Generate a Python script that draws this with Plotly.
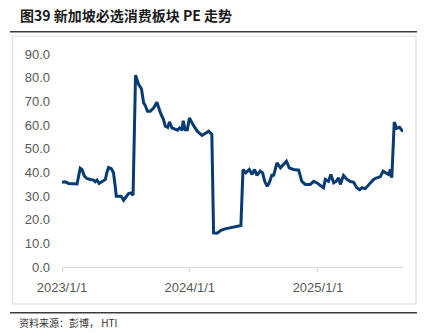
import plotly.graph_objects as go

# ---- data ----
dates = [
    "2023-01-01", "2023-01-10", "2023-01-20", "2023-02-03", "2023-02-13", "2023-02-22", "2023-02-27",
    "2023-03-06", "2023-03-13", "2023-03-23", "2023-04-01", "2023-04-06", "2023-04-11", "2023-04-17",
    "2023-04-25", "2023-05-05", "2023-05-09", "2023-05-14", "2023-05-22", "2023-05-28", "2023-06-02",
    "2023-06-05", "2023-06-12", "2023-06-19", "2023-06-26", "2023-07-03", "2023-07-10", "2023-07-18",
    "2023-07-23", "2023-07-30", "2023-08-08", "2023-08-16", "2023-08-22", "2023-08-27", "2023-09-02",
    "2023-09-10", "2023-09-20", "2023-09-29", "2023-10-10", "2023-10-18", "2023-10-23", "2023-10-30",
    "2023-11-04", "2023-11-11", "2023-11-21", "2023-11-27", "2023-12-03", "2023-12-10", "2023-12-13",
    "2023-12-19", "2023-12-25", "2023-12-31", "2024-01-10", "2024-01-22", "2024-02-05", "2024-02-14",
    "2024-02-24", "2024-03-04", "2024-03-09", "2024-03-19", "2024-03-30", "2024-04-11", "2024-04-26",
    "2024-05-10", "2024-05-26", "2024-06-01", "2024-06-09", "2024-06-19", "2024-06-27", "2024-07-04",
    "2024-07-11", "2024-07-20", "2024-07-27", "2024-08-02", "2024-08-09", "2024-08-15", "2024-08-23",
    "2024-08-27", "2024-09-06", "2024-09-16", "2024-09-25", "2024-10-03", "2024-10-11", "2024-10-23",
    "2024-11-07", "2024-11-16", "2024-11-26", "2024-12-10", "2024-12-20", "2024-12-31", "2025-01-08",
    "2025-01-17", "2025-01-22", "2025-01-31", "2025-02-07", "2025-02-15", "2025-02-22", "2025-03-01",
    "2025-03-06", "2025-03-15", "2025-03-25", "2025-04-03", "2025-04-13", "2025-04-22", "2025-04-30",
    "2025-05-07", "2025-05-16", "2025-05-28", "2025-06-09", "2025-06-18", "2025-06-28", "2025-07-06",
    "2025-07-15", "2025-07-22", "2025-07-27", "2025-07-31", "2025-08-07", "2025-08-14", "2025-08-22",
    "2025-08-27", "2025-09-01",
]
pe_values = [
    35.8, 36.0, 35.3, 35.3, 35.1, 41.7, 41.2,
    38.4, 37.4, 37.0, 36.7, 36.0, 36.7, 35.3,
    36.0, 37.0, 39.8, 42.0, 41.5, 39.8, 34.1,
    29.9, 29.9, 29.9, 28.2, 29.9, 31.0, 31.3,
    30.3, 81.0, 77.1, 75.3, 69.4, 68.2, 65.8,
    65.8, 67.3, 69.6, 64.8, 62.3, 59.5, 59.0,
    61.3, 58.8, 58.1, 57.8, 58.8, 57.8, 61.8,
    58.0, 58.0, 63.0, 60.2, 57.4, 55.6, 56.3,
    57.4, 56.0, 14.4, 14.3, 15.5, 16.1, 16.6,
    17.0, 17.5, 41.2, 39.8, 41.2, 39.1, 41.2,
    38.7, 40.5, 39.8, 36.2, 34.1, 35.6, 39.1,
    38.4, 44.0, 41.9, 43.3, 44.7, 41.9, 41.2,
    40.9, 36.2, 34.9, 34.9, 36.2, 35.4, 34.4,
    33.5, 37.0, 36.2, 39.1, 35.6, 36.2, 37.7,
    34.9, 38.7, 37.0, 36.2, 35.8, 33.5, 32.7,
    33.5, 33.1, 34.9, 37.0, 37.7, 38.1, 40.5,
    39.5, 39.1, 41.2, 37.7, 61.2, 58.6, 59.0,
    58.0, 57.2,
]
x_tick_vals = ["2023-01-01", "2024-01-01", "2025-01-01"]
x_tick_text = ["2023/1/1", "2024/1/1", "2025/1/1"]
y_tick_vals = [0, 10, 20, 30, 40, 50, 60, 70, 80, 90]
y_tick_text = ["0.0", "10.0", "20.0", "30.0", "40.0", "50.0", "60.0", "70.0", "80.0", "90.0"]

title_text = "图39 新加坡必选消费板块 PE 走势"
source_text = "资料来源：彭博， HTI"

# ---- layout geometry ----
W, H = 429, 333
ML, MR, MT, MB = 62, 26, 54, 66
PW, PH = W - ML - MR, H - MT - MB


def px(xp):
    return (xp - ML) / PW


def py(yp):
    return (H - MB - yp) / PH


fig = go.Figure()
fig.add_trace(go.Scatter(
    x=dates, y=pe_values, mode="lines",
    line=dict(color="#063C73", width=3),
    hoverinfo="skip",
))

fig.update_layout(
    width=W, height=H, autosize=False,
    margin=dict(l=ML, r=MR, t=MT, b=MB, pad=0),
    paper_bgcolor="white", plot_bgcolor="white",
    showlegend=False,
    font=dict(family="Liberation Sans, Arial, sans-serif", color="#595959"),
    xaxis=dict(
        type="date",
        range=["2023-01-01", "2025-09-01"],
        tickmode="array", tickvals=x_tick_vals, ticktext=x_tick_text,
        showgrid=False, zeroline=False,
        showline=True, linecolor="#d9d9d9", linewidth=1,
        ticks="outside", ticklen=4, tickcolor="#d9d9d9", tickwidth=1,
        tickfont=dict(size=13, color="#595959"),
        ticklabelstandoff=4,
    ),
    yaxis=dict(
        range=[0, 90],
        tickmode="array", tickvals=y_tick_vals, ticktext=y_tick_text,
        showgrid=False, zeroline=False, showline=False, ticks="",
        tickfont=dict(size=13, color="#595959"),
        ticklabelstandoff=11,
    ),
)

# frame and rules
fig.add_shape(type="rect", xref="paper", yref="paper",
              x0=px(12.7), x1=px(416), y0=py(304), y1=py(36),
              line=dict(color="#d9d9d9", width=1), fillcolor="rgba(0,0,0,0)", layer="below")
fig.add_shape(type="line", xref="paper", yref="paper",
              x0=px(10), x1=px(417), y0=py(31.7), y1=py(31.7),
              line=dict(color="#3a3a3a", width=1.5))
fig.add_shape(type="line", xref="paper", yref="paper",
              x0=px(10), x1=px(417), y0=py(312.7), y1=py(312.7),
              line=dict(color="#3a3a3a", width=1.5))

fig.add_annotation(text="<b>" + title_text + "</b>", xref="paper", yref="paper",
                   x=px(18), y=py(15), xanchor="left", yanchor="middle", showarrow=False,
                   font=dict(family="Noto Sans CJK SC", size=14, color="#1a1a1a"))
fig.add_annotation(text=source_text, xref="paper", yref="paper",
                   x=px(17), y=py(322), xanchor="left", yanchor="middle", showarrow=False,
                   font=dict(family="Noto Sans CJK SC", size=10, color="#333333"))

fig.write_html("out.html")
